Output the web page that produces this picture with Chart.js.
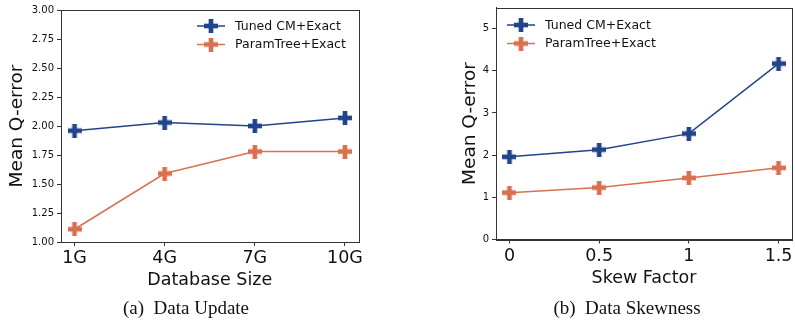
<!DOCTYPE html>
<html>
<head>
<meta charset="utf-8">
<script src="https://cdn.jsdelivr.net/npm/chart.js@4.4.1/dist/chart.umd.min.js"></script>
<style>
  html, body { margin: 0; padding: 0; background: #fff; }
  #wrap { position: relative; width: 795px; height: 325px; overflow: hidden; }
  canvas { position: absolute; top: 0; }
  .cap { position: absolute; top: 297px; font-family: "Liberation Serif", "DejaVu Serif", serif; font-size: 19px; color: #111; white-space: pre; text-align: center; width: 300px; }
</style>
</head>
<body>
<div id="wrap">
  <canvas id="c1" width="398" height="325" style="left:0px"></canvas>
  <canvas id="c2" width="397" height="325" style="left:398px"></canvas>
  <div class="cap" style="left:36px">(a)  Data Update</div>
  <div class="cap" style="left:477px">(b)  Data Skewness</div>
</div>
<script>
// ---- data ----
const seriesNames = ['Tuned CM+Exact', 'ParamTree+Exact'];

const sizeLabels = ['1G', '4G', '7G', '10G'];
const sizePositions = [0, 1, 2, 3];
const updateTuned = [1.96, 2.03, 2.00, 2.07];
const updateParamTree = [1.11, 1.59, 1.78, 1.78];

const skewLabels = ['0', '0.5', '1', '1.5'];
const skewValues = [0, 0.5, 1, 1.5];
const skewTuned = [1.96, 2.13, 2.51, 4.17];
const skewParamTree = [1.11, 1.23, 1.46, 1.70];

const yTicksUpdate = [1.00, 1.25, 1.50, 1.75, 2.00, 2.25, 2.50, 2.75, 3.00];
const yTicksSkew = [0, 1, 2, 3, 4, 5];

// ---- styles ----
const NAVY = '#21448a';
const ORANGE = '#d97050';
const AXIS = '#333';

function plusMarker(color, size) {
  const c = document.createElement('canvas');
  c.width = size; c.height = size;
  const g = c.getContext('2d');
  const t = size / 3;
  g.fillStyle = color;
  g.fillRect(t, 0, t, size);
  g.fillRect(0, t, size, t);
  return c;
}
const navyPlus = plusMarker(NAVY, 14);
const orangePlus = plusMarker(ORANGE, 14);

const framePlugin = {
  id: 'frame',
  afterDraw(chart, args, opts) {
    const { ctx, chartArea: a } = chart;
    ctx.save();
    ctx.strokeStyle = AXIS;
    ctx.lineWidth = 1;
    ctx.strokeRect(Math.round(a.left) + 0.5, Math.round(a.top) + 0.5,
                   Math.round(a.right - a.left), Math.round(a.bottom - a.top));
    // legend
    const lx = opts.x, ly = opts.y, gap = 18.5;
    chart.data.datasets.forEach((ds, i) => {
      const y = ly + i * gap;
      ctx.strokeStyle = ds.borderColor;
      ctx.lineWidth = 1.5;
      ctx.beginPath();
      ctx.moveTo(lx, y); ctx.lineTo(lx + 28, y);
      ctx.stroke();
      const img = ds.pointStyle;
      ctx.drawImage(img, lx + 14 - img.width / 2, y - img.height / 2);
      ctx.fillStyle = '#111';
      ctx.font = '12.5px "DejaVu Sans"';
      ctx.textBaseline = 'middle';
      ctx.textAlign = 'left';
      ctx.fillText(ds.label, lx + 38, y + 0.5);
    });
    ctx.restore();
  }
};

function makeChart(id, cfg) {
  const pts = (xs, ys) => xs.map((x, i) => ({ x: x, y: ys[i] }));
  return new Chart(document.getElementById(id), {
    type: 'line',
    data: {
      datasets: [
        { label: seriesNames[0], data: pts(cfg.xs, cfg.a), borderColor: NAVY, backgroundColor: NAVY,
          borderWidth: 1.5, pointStyle: navyPlus, pointRadius: 7, tension: 0 },
        { label: seriesNames[1], data: pts(cfg.xs, cfg.b), borderColor: ORANGE, backgroundColor: ORANGE,
          borderWidth: 1.5, pointStyle: orangePlus, pointRadius: 7, tension: 0 }
      ]
    },
    options: {
      responsive: false,
      animation: false,
      events: [],
      layout: { padding: cfg.padding, autoPadding: false },
      plugins: { legend: { display: false }, tooltip: { enabled: false }, frame: cfg.legend },
      scales: {
        x: {
          type: 'linear',
          min: cfg.xmin, max: cfg.xmax,
          afterBuildTicks: (s) => { s.ticks = cfg.xs.map(v => ({ value: v })); },
          afterFit: (s) => { s.height = cfg.xHeight; s.paddingLeft = 0; s.paddingRight = 0; },
          ticks: {
            callback: (v) => cfg.xLabels[cfg.xs.indexOf(v)],
            font: { family: 'DejaVu Sans', size: 17.5 },
            color: '#111', padding: 2, maxRotation: 0, autoSkip: false
          },
          grid: { drawOnChartArea: false, drawTicks: true, tickLength: 4, color: AXIS, tickWidth: 1 },
          border: { display: true, color: AXIS, width: 1 },
          title: { display: true, text: cfg.xTitle, font: { family: 'DejaVu Sans', size: 17.5 }, color: '#111',
                   padding: { top: 0, bottom: cfg.xTitlePad } }
        },
        y: {
          type: 'linear',
          min: cfg.ymin, max: cfg.ymax,
          afterBuildTicks: (s) => { s.ticks = cfg.yTicks.map(v => ({ value: v })); },
          afterFit: (s) => { s.width = cfg.yWidth; s.paddingTop = 0; s.paddingBottom = 0; },
          ticks: {
            callback: (v) => cfg.yFmt(v),
            font: { family: 'DejaVu Sans', size: 10 },
            color: '#111', padding: 3
          },
          grid: { drawOnChartArea: false, drawTicks: true, tickLength: 4, color: AXIS, tickWidth: 1 },
          border: { display: true, color: AXIS, width: 1 },
          title: { display: true, text: 'Mean Q-error', font: { family: 'DejaVu Sans', size: 18.5 }, color: '#111',
                   padding: { top: cfg.yTitlePad, bottom: 0 } }
        }
      }
    },
    plugins: [framePlugin]
  });
}

makeChart('c1', {
  xs: sizePositions, xLabels: sizeLabels, a: updateTuned, b: updateParamTree,
  xmin: -0.15, xmax: 3.15, ymin: 1, ymax: 3, yTicks: yTicksUpdate,
  yFmt: (v) => v.toFixed(2),
  xTitle: 'Database Size',
  padding: { left: 0, right: 39.5, top: 10, bottom: 28 },
  xHeight: 55, yWidth: 61, xTitlePad: 6, yTitlePad: 6,
  legend: { x: 197, y: 26 }
});

makeChart('c2', {
  xs: skewValues, xLabels: skewLabels, a: skewTuned, b: skewParamTree,
  xmin: -0.075, xmax: 1.575, ymin: 0, ymax: 5.5, yTicks: yTicksSkew,
  yFmt: (v) => String(v),
  xTitle: 'Skew Factor',
  padding: { left: 50, right: 3, top: 7.5, bottom: 30.5 },
  xHeight: 55, yWidth: 48, xTitlePad: 6, yTitlePad: 11,
  legend: { x: 109, y: 25 }
});
</script>
</body>
</html>
